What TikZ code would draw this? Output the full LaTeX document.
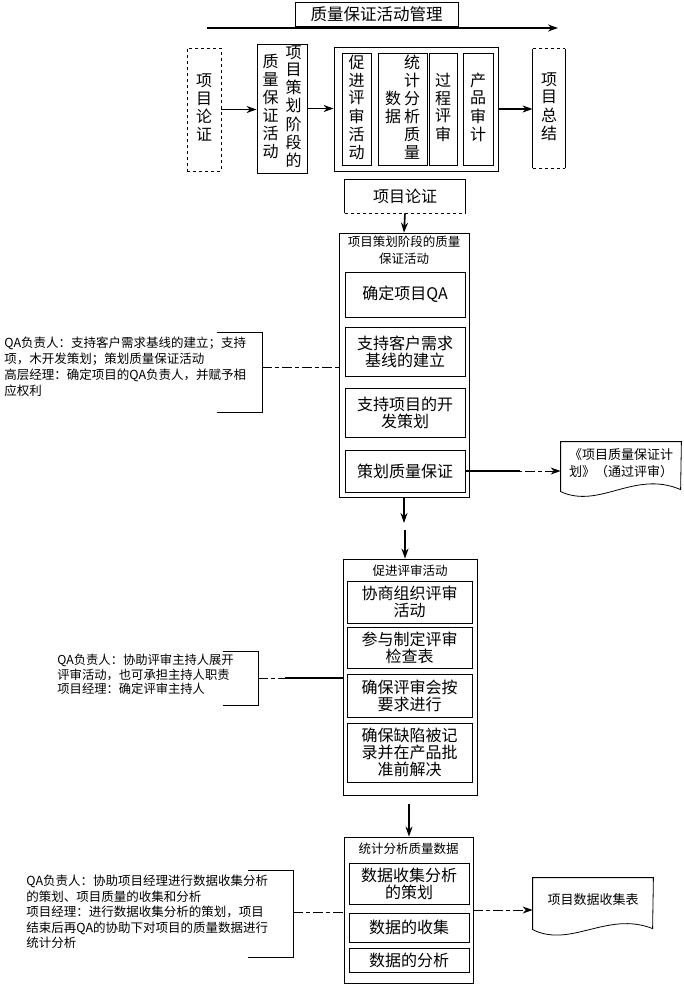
\documentclass[tikz,border=0pt]{standalone}
\usepackage{fontspec}
\setmainfont{Noto Sans CJK SC}
\usetikzlibrary{arrows.meta,calc}

\newcommand{\vcol}[1]{\begin{tabular}[c]{@{}c@{}}#1\end{tabular}}

\begin{document}
\begin{tikzpicture}[x=1pt,y=-1pt,>={Stealth[length=10pt,width=7pt]},line width=0.8pt,
    box/.style={draw,rectangle,inner sep=0pt,align=center,font=\fontsize{16}{17}\selectfont},
    vbox/.style={box,font=\fontsize{16}{16}\selectfont},
    title node/.style={inner sep=0pt,align=center,font=\fontsize{12.5}{17}\selectfont},
    note/.style={inner sep=0pt,align=left,anchor=north west},
    bracket/.style={inner sep=0pt},
    doc/.style={inner sep=0pt,align=center,minimum width=120pt,font=\fontsize{13}{17}\selectfont},
    flow/.style={->,line width=1.6pt},
    link/.style={dash pattern=on 10pt off 3pt on 4pt off 3pt,line width=1pt}]

    \useasboundingbox (0,0) rectangle (683,985);

    % top row
    \node[box,font=\fontsize{16.5}{17}\selectfont,minimum width=163pt,minimum height=24pt] (mgmt) at (376.5,14) {质量保证活动管理};
    \coordinate (mgmtL) at (207,28);
    \coordinate (mgmtR) at (558,28);
    \draw[flow] (mgmtL) -- (mgmtR);

    \node[vbox,dashed,minimum width=34pt,minimum height=123pt] (lz) at (204,109.5) {\vcol{项\\目\\论\\证}};
    \node[vbox,minimum width=50pt,minimum height=129pt] (ch) at (282,108.5) {\vcol{质\\量\\保\\证\\活\\动}\hspace{7pt}\vcol{项\\目\\策\\划\\阶\\段\\的}};
    \node[vbox,minimum width=164pt,minimum height=124pt] (stage) at (416,109) {};
    \node[vbox,minimum width=29pt,minimum height=112pt] (cj) at (356.5,109) {\vcol{促\\进\\评\\审\\活\\动}};
    \node[vbox,minimum width=49pt,minimum height=112pt] (tj) at (402.5,109) {\vcol{数\\据}\hspace{3pt}\vcol{统\\计\\分\\析\\质\\量}};
    \node[vbox,minimum width=28pt,minimum height=112pt] (gc) at (443,109) {\vcol{过\\程\\评\\审}};
    \node[vbox,minimum width=30pt,minimum height=112pt] (cp) at (478,109) {\vcol{产\\品\\审\\计}};
    \node[vbox,draw=none,minimum width=32pt,minimum height=119pt] (zj) at (549,108.5) {\vcol{项\\目\\总\\结}};
    \draw[dashed] (zj.north west) -- (zj.north east) (zj.south west) -- (zj.south east);
    \draw[line width=1.6pt] (zj.north west) -- (zj.south west) (zj.north east) -- (zj.south east);

    \draw[flow] (lz.east) -- (lz.east -| ch.west);
    \draw[flow] (ch.east) -- (ch.east -| stage.west);
    \draw[flow] (stage.east) -- (stage.east -| zj.west);

    % planning stage
    \node[box,draw=none,minimum width=120pt,minimum height=33pt] (lz2) at (405,196.5) {项目论证};
    \draw[line width=1.6pt] (lz2.south west) |- (lz2.north east) -- (lz2.south east);
    \draw[dashed,line width=1.2pt] (lz2.south west) -- (lz2.south east);

    \node[box,minimum width=130pt,minimum height=264pt] (plan) at (404,365) {};
    \node[title node] (plantitle) at (404,250.5) {项目策划阶段的质量\\保证活动};
    \node[box,minimum width=120pt,minimum height=45pt] (qa) at (405,294.5) {确定项目QA};
    \node[box,minimum width=120pt,minimum height=49pt] (jx) at (405,351.5) {支持客户需求\\基线的建立};
    \node[box,minimum width=120pt,minimum height=49pt] (kf) at (405,412.5) {支持项目的开\\发策划};
    \node[box,minimum width=120pt,minimum height=42pt] (bz) at (405,471) {策划质量保证};
    \draw[flow] (lz2.south) -- (plan.north);

    \node[note,font=\fontsize{12.5}{16}\selectfont] (note1) at (4,336) {QA负责人：支持客户需求基线的建立；支持\\项，木开发策划；策划质量保证活动\\高层经理：确定项目的QA负责人，并赋予相\\应权利};
    \node[bracket,minimum width=45pt,minimum height=79pt] (br1) at (239.5,372.5) {};
    \draw (br1.north west) -- (br1.north east) -- (br1.south east) -- (br1.south west);
    \coordinate (l1) at (262,367);
    \draw[link] (l1) -- (l1 -| plan.west);

    \node[doc,minimum height=42pt] (doc1) at (621,463) {《项目质量保证计\\划》（通过评审）};
    \draw (doc1.north west) -- (doc1.north east) -- ($(doc1.north west)+(120,48)$)
        .. controls ($(doc1.north west)+(74,28)$) and ($(doc1.north west)+(39,68)$) .. ($(doc1.north west)+(0,50)$) -- cycle;
    \draw[link,->] (bz.east) -- (bz.east -| doc1.west);
    \draw[line width=1.6pt] (bz.east) -- ++(55,0);

    % review
    \node[box,minimum width=134pt,minimum height=236pt] (review) at (410,677) {};
    \node[title node] (reviewtitle) at (410,571) {促进评审活动};
    \node[box,minimum width=125pt,minimum height=42pt] (xs) at (409.5,602) {协商组织评审\\活动};
    \node[box,minimum width=125pt,minimum height=41pt] (cy) at (409.5,647.5) {参与制定评审\\检查表};
    \node[box,minimum width=125pt,minimum height=43pt] (qb) at (409.5,695.5) {确保评审会按\\要求进行};
    \node[box,minimum width=125pt,minimum height=59pt] (qx) at (409.5,752.5) {确保缺陷被记\\录并在产品批\\准前解决};

    \coordinate (g1) at (404,523);
    \coordinate (g2) at (405,530);
    \draw[flow] (plan.south) -- (g1);
    \draw[flow] (g2) -- (g2 |- review.north);

    \node[note,font=\fontsize{12.3}{14.5}\selectfont] (note2) at (57,654) {QA负责人：协助评审主持人展开\\评审活动，也可承担主持人职责\\项目经理：确定评审主持人};
    \node[bracket,minimum width=35pt,minimum height=53pt] (br2) at (240.5,678.5) {};
    \draw (br2.north west) -- (br2.north east) -- (br2.south east) -- (br2.south west);
    \coordinate (l2) at (258,678);
    \draw[link] (l2) -- (l2 -| review.west);
    \draw[line width=1.6pt] ($(l2)+(27,0)$) -- (l2 -| review.west);

    % statistics
    \node[box,minimum width=129pt,minimum height=146pt] (stat) at (408.5,910) {};
    \node[title node] (stattitle) at (408.5,849) {统计分析质量数据};
    \node[box,minimum width=120pt,minimum height=41pt] (cl) at (409,883.5) {数据收集分析\\的策划};
    \node[box,minimum width=120pt,minimum height=29pt] (sj) at (409,927.5) {数据的收集};
    \node[box,minimum width=120pt,minimum height=24pt] (fx) at (409,960) {数据的分析};

    \coordinate (g3) at (409,804);
    \draw[flow] (g3) -- (g3 |- stat.north);

    \node[note,font=\fontsize{12.5}{15.5}\selectfont] (note3) at (26,875) {QA负责人：协助项目经理进行数据收集分析\\的策划、项目质量的收集和分析\\项目经理：进行数据收集分析的策划，项目\\结束后再QA的协助下对项目的质量数据进行\\统计分析};
    \node[bracket,minimum width=45pt,minimum height=86pt] (br3) at (270.5,914) {};
    \draw (br3.north west) -- (br3.north east) -- (br3.south east) -- (br3.south west);
    \coordinate (l3) at (293,912);
    \draw[link] (l3) -- (l3 -| stat.west);

    \node[doc,minimum height=44pt] (doc2) at (593,900) {项目数据收集表};
    \draw (doc2.north west) -- (doc2.north east) -- ($(doc2.north west)+(120,51)$)
        .. controls ($(doc2.north west)+(75,33)$) and ($(doc2.north west)+(38,71)$) .. ($(doc2.north west)+(0,52)$) -- cycle;
    \draw[link,->] (stat.east) -- (stat.east -| doc2.west);

\end{tikzpicture}
\end{document}
